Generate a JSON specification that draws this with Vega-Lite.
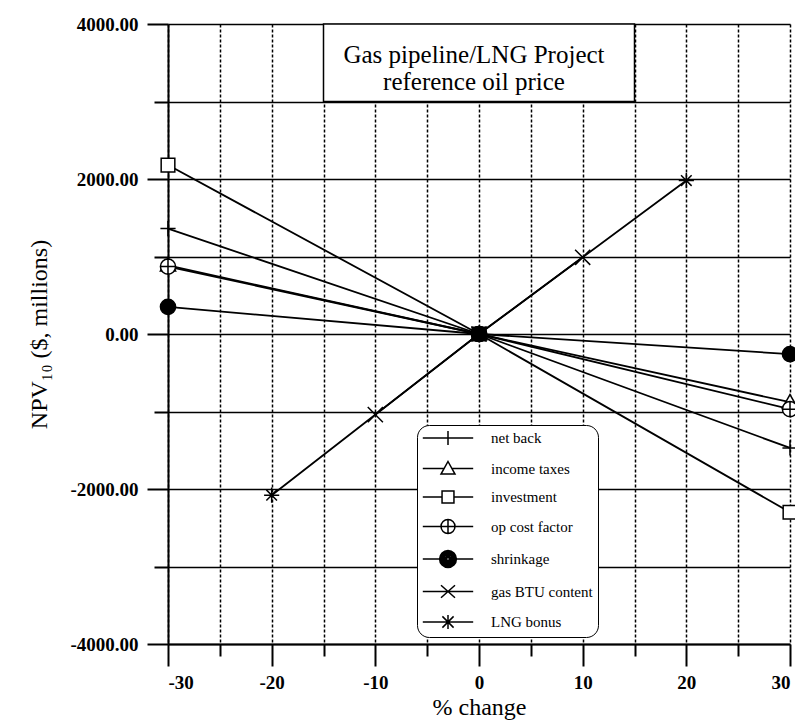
{
  "$schema": "https://vega.github.io/schema/vega-lite/v6.json",
  "autosize": {"type": "none"},
  "padding": {"left": 168, "top": 24, "right": 5, "bottom": 79},
  "width": 622,
  "height": 620,
  "background": "white",
  "config": {
    "view": {"stroke": null},
    "font": "Liberation Serif"
  },
  "data": {
    "values": [
      {"series": "net back", "pct": -30, "npv": 1360},
      {"series": "net back", "pct": 0, "npv": 0},
      {"series": "net back", "pct": 30, "npv": -1470},
      {"series": "income taxes", "pct": -30, "npv": 885},
      {"series": "income taxes", "pct": 0, "npv": 0},
      {"series": "income taxes", "pct": 30, "npv": -880},
      {"series": "investment", "pct": -30, "npv": 2180},
      {"series": "investment", "pct": 0, "npv": 0},
      {"series": "investment", "pct": 30, "npv": -2300},
      {"series": "op cost factor", "pct": -30, "npv": 870},
      {"series": "op cost factor", "pct": 0, "npv": 0},
      {"series": "op cost factor", "pct": 30, "npv": -970},
      {"series": "shrinkage", "pct": -30, "npv": 350},
      {"series": "shrinkage", "pct": 0, "npv": 0},
      {"series": "shrinkage", "pct": 30, "npv": -260},
      {"series": "gas BTU content", "pct": -10, "npv": -1040},
      {"series": "gas BTU content", "pct": 0, "npv": 0},
      {"series": "gas BTU content", "pct": 10, "npv": 990},
      {"series": "LNG bonus", "pct": -20, "npv": -2080},
      {"series": "LNG bonus", "pct": 0, "npv": 0},
      {"series": "LNG bonus", "pct": 20, "npv": 1980}
    ]
  },
  "resolve": {"scale": {"shape": "independent"}},
  "layer": [
    {
      "data": {"values": [{}]},
      "mark": {"type": "rect", "fill": "white", "stroke": "black", "strokeWidth": 1.5},
      "encoding": {
        "x": {"datum": -15, "type": "quantitative"},
        "x2": {"datum": 15},
        "y": {"datum": 3000, "type": "quantitative"},
        "y2": {"datum": 4000}
      }
    },
    {
      "data": {"values": [{"t": "title"}]},
      "mark": {"type": "text", "text": ["Gas pipeline/LNG Project", "reference oil price"], "font": "Liberation Serif", "fontSize": 25, "lineHeight": 27, "baseline": "middle", "align": "center", "color": "black", "dx": -5},
      "encoding": {
        "x": {"datum": 0, "type": "quantitative"},
        "y": {"datum": 3600, "type": "quantitative"}
      }
    },
    {
      "mark": {"type": "line", "color": "black", "strokeWidth": 1.8},
      "encoding": {
        "x": {
          "field": "pct", "type": "quantitative",
          "scale": {"domain": [-30, 30], "nice": false, "zero": false},
          "axis": {
            "title": "% change",
            "titleFont": "Liberation Serif", "titleFontSize": 24, "titleFontWeight": "normal", "titleColor": "black", "titlePadding": 3,
            "values": [-30, -25, -20, -15, -10, -5, 0, 5, 10, 15, 20, 25, 30],
            "labelExpr": "datum.value % 10 == 0 ? (datum.value < 0 ? '-' : '') + abs(datum.value) : ''",
            "labelFont": "Liberation Serif", "labelFontSize": 19, "labelFontWeight": "bold", "labelColor": "black", "labelPadding": 7,
            "tickSize": {"condition": {"test": "datum.value % 10 == 0", "value": 22}, "value": 12},
            "tickColor": "black", "tickWidth": 2,
            "domainColor": "black", "domainWidth": 2,
            "grid": true, "gridColor": "black", "gridOpacity": 1, "gridWidth": 1.5, "gridDash": [3, 2]
          }
        },
        "y": {
          "field": "npv", "type": "quantitative",
          "scale": {"domain": [-4000, 4000], "nice": false, "zero": false},
          "axis": {
            "title": "NPV₁₀ ($, millions)",
            "titleFont": "Liberation Serif", "titleFontSize": 24, "titleFontWeight": "normal", "titleColor": "black", "titlePadding": 18,
            "values": [-4000, -3000, -2000, -1000, 0, 1000, 2000, 3000, 4000],
            "labelExpr": "datum.value % 2000 == 0 ? (datum.value < 0 ? '-' : '') + format(abs(datum.value), '.2f') : ''",
            "labelFont": "Liberation Serif", "labelFontSize": 19, "labelFontWeight": "bold", "labelColor": "black", "labelPadding": 9,
            "tickSize": {"condition": {"test": "datum.value % 2000 == 0", "value": 21}, "value": 14},
            "tickColor": "black", "tickWidth": 2,
            "domainColor": "black", "domainWidth": 2,
            "grid": true, "gridColor": "black", "gridOpacity": 1, "gridWidth": 1.5
          }
        },
        "detail": {"field": "series"}
      }
    },
    {
      "mark": {"type": "point", "filled": true, "stroke": "black", "strokeWidth": 1.5, "size": 230, "opacity": 1},
      "encoding": {
        "x": {"field": "pct", "type": "quantitative"},
        "y": {"field": "npv", "type": "quantitative"},
        "fill": {"condition": {"test": "datum.series === 'shrinkage'", "value": "black"}, "value": "white"},
        "shape": {
          "field": "series", "type": "nominal",
          "scale": {
            "domain": ["net back", "income taxes", "investment", "op cost factor", "shrinkage", "gas BTU content", "LNG bonus"],
            "range": [
              "M-1,0H1M0,-1V1",
              "M0,-1L1,0.75L-1,0.75Z",
              "M-0.9,-0.9H0.9V0.9H-0.9Z",
              "M-1,0A1,1 0 1,1 1,0A1,1 0 1,1 -1,0ZM-1,0H1M0,-1V1",
              "circle",
              "M-1,-1L1,1M-1,1L1,-1",
              "M-1,0H1M0,-1V1M-0.7,-0.7L0.7,0.7M-0.7,0.7L0.7,-0.7"
            ]
          },
          "legend": null
        }
      }
    },
    {
      "mark": {"type": "point", "filled": true, "fill": "white", "stroke": "black", "strokeWidth": 1.5, "size": 196, "opacity": 0},
      "encoding": {
        "x": {"field": "pct", "type": "quantitative"},
        "y": {"field": "npv", "type": "quantitative"},
        "shape": {
          "field": "series", "type": "nominal",
          "scale": {
            "domain": ["net back", "income taxes", "investment", "op cost factor", "shrinkage", "gas BTU content", "LNG bonus"],
            "range": [
              "M-3.6,0H3.6M0,-1V1",
              "M-3.6,0H-0.56M0.56,0H3.6M0,-1L1,0.8L-1,0.8Z",
              "M-3.6,0H-0.85M0.85,0H3.6M-0.85,-0.85H0.85V0.85H-0.85Z",
              "M-3.6,0H-1M1,0H3.6M-1,0A1,1 0 1,1 1,0A1,1 0 1,1 -1,0ZM-1,0H1M0,-1V1",
              "M-3.6,0H-1.2M1.2,0H3.6M-1.2,0A1.2,1.2 0 1,1 1.2,0A1.2,1.2 0 1,1 -1.2,0ZM-1,0A1,1 0 1,1 1,0A1,1 0 1,1 -1,0ZM-0.8,0A0.8,0.8 0 1,1 0.8,0A0.8,0.8 0 1,1 -0.8,0ZM-0.6,0A0.6,0.6 0 1,1 0.6,0A0.6,0.6 0 1,1 -0.6,0ZM-0.4,0A0.4,0.4 0 1,1 0.4,0A0.4,0.4 0 1,1 -0.4,0ZM-0.2,0A0.2,0.2 0 1,1 0.2,0A0.2,0.2 0 1,1 -0.2,0Z",
              "M-3.6,0H3.6M-1,-0.9L1,0.9M-1,0.9L1,-0.9",
              "M-3.6,0H3.6M0,-1V1M-0.8,-0.8L0.8,0.8M-0.8,0.8L0.8,-0.8"
            ]
          },
          "legend": {
            "title": null,
            "orient": "none",
            "legendX": 249,
            "legendY": 401,
            "strokeColor": "black",
            "fillColor": "white",
            "cornerRadius": 12,
            "padding": 5,
            "symbolSize": 196,
            "symbolOffset": 18,
            "symbolOpacity": 1,
            "symbolStrokeWidth": 1.5,
            "labelFont": "Liberation Serif",
            "labelFontSize": 15,
            "labelColor": "black",
            "labelOffset": 35,
            "rowPadding": 10.5,
            "encode": {
              "symbols": {
                "fill": {"value": "white"},
                "stroke": {"value": "black"},
                "strokeWidth": {"value": 1.5},
                "strokeOpacity": {"value": 1},
                "fillOpacity": {"value": 1}
              }
            }
          }
        }
      }
    }
  ]
}
